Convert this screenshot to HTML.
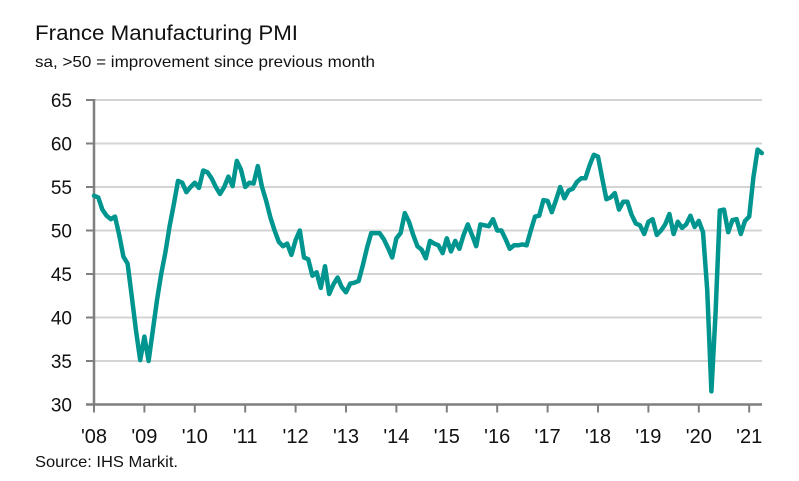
<!DOCTYPE html>
<html><head><meta charset="utf-8"><style>
html,body{margin:0;padding:0;background:#fff;}
svg{display:block;font-family:"Liberation Sans",sans-serif;}
</style></head><body>
<svg id="chart" width="799" height="481" viewBox="0 0 799 481" xmlns="http://www.w3.org/2000/svg">
<text x="35" y="40" font-size="21" fill="#111" textLength="263" lengthAdjust="spacingAndGlyphs">France Manufacturing PMI</text>
<text x="35" y="67" font-size="16" fill="#111" textLength="340" lengthAdjust="spacingAndGlyphs">sa, &gt;50 = improvement since previous month</text>
<text x="35" y="467" font-size="16" fill="#111" textLength="143" lengthAdjust="spacingAndGlyphs">Source: IHS Markit.</text>
<g id="grid"></g><g id="axes"></g><g id="series"></g>
</svg>
<script>
const yTicks = [30,35,40,45,50,55,60,65];
const yearLabels = ["'08","'09","'10","'11","'12","'13","'14","'15","'16","'17","'18","'19","'20","'21"];
const startYear = 2008;
const pmi2008_2010 = [54.0,53.8,52.4,51.7,51.3,51.6,49.5,47.0,46.2,42.4,38.5,35.1,
 37.8,35.0,38.5,42.0,45.0,47.5,50.5,53.0,55.7,55.5,54.4,55.0,
 55.5,54.9,56.9,56.7,56.0,55.0,54.2,55.0,56.2,55.1,58.0,57.0];
const pmi2011_2013 = [55.0,55.5,55.4,57.4,55.0,53.4,51.5,50.0,48.7,48.2,48.5,47.2,
 48.9,50.0,46.9,46.7,44.8,45.2,43.4,45.9,42.7,43.8,44.6,43.5,
 42.9,43.9,44.0,44.2,46.0,48.0,49.7,49.7,49.7,49.0,48.0,46.9];
const pmi2014_2016 = [49.1,49.7,52.0,51.0,49.5,48.2,47.8,46.8,48.8,48.5,48.3,47.4,
 49.1,47.6,48.8,47.9,49.5,50.7,49.5,48.2,50.7,50.6,50.5,51.3,
 50.0,50.0,49.0,47.9,48.3,48.3,48.4,48.3,50.0,51.6,51.7,53.5];
const pmi2017_2019 = [53.4,52.1,53.5,55.0,53.7,54.6,54.8,55.6,56.0,56.0,57.5,58.7,
 58.5,56.0,53.6,53.8,54.3,52.4,53.3,53.3,51.8,50.8,50.6,49.6,
 51.0,51.3,49.5,50.0,50.7,51.9,49.6,51.0,50.3,50.7,51.7,50.4];
const pmi2020_2021 = [51.1,49.8,43.2,31.5,40.6,52.3,52.4,49.8,51.2,51.3,49.6,51.1,
 51.6,56.1,59.3,58.9];
const pmiValues = [].concat(pmi2008_2010,pmi2011_2013,pmi2014_2016,pmi2017_2019,pmi2020_2021);

const NS="http://www.w3.org/2000/svg";
const X0=94, PX_PER_YEAR=50.4, Y30=404.5, PX_PER_UNIT=8.7, XR=762;
function xMonth(i){return X0+i*PX_PER_YEAR/12;}
function xYear(k){return X0+k*PX_PER_YEAR;}
function yScale(v){return Y30-(v-30)*PX_PER_UNIT;}
function mk(tag,attrs,parent){const e=document.createElementNS(NS,tag);for(const k in attrs)e.setAttribute(k,attrs[k]);parent.appendChild(e);return e;}
const grid=document.getElementById('grid'),axes=document.getElementById('axes'),series=document.getElementById('series');
yTicks.forEach(v=>{
  const y=yScale(v);
  if(v!==30){const g=mk('line',{x1:X0,x2:XR,y1:y,y2:y,stroke:'#d4d4d4','stroke-width':2},grid);
  
  }
  const t=mk('line',{x1:86,x2:X0,y1:y,y2:y,stroke:'#7f7f7f','stroke-width':2},axes);
  
  
  const l=mk('text',{x:72,y:y+7,'font-size':19,'text-anchor':'end',fill:'#111'},axes);
  l.textContent=v;
  
  
});
const ya=mk('line',{x1:X0,x2:X0,y1:yScale(65)-1,y2:Y30+1,stroke:'#7f7f7f','stroke-width':2.5},axes);


const xa=mk('line',{x1:86,x2:XR,y1:Y30,y2:Y30,stroke:'#7f7f7f','stroke-width':2.5},axes);


yearLabels.forEach((s,k)=>{
  const x=xYear(k);
  const t=mk('line',{x1:x,x2:x,y1:Y30,y2:Y30+8,stroke:'#7f7f7f','stroke-width':2},axes);
  
  
  const l=mk('text',{x:x,y:443,'font-size':20,'text-anchor':'middle',fill:'#111'},axes);
  l.textContent=s;
  
  
});
const d=pmiValues.map((v,i)=>(i?'L':'M')+xMonth(i).toFixed(1)+','+yScale(v).toFixed(1)).join(' ');
const p=mk('path',{d:d,fill:'none',stroke:'#00968f','stroke-width':4.5,'stroke-linejoin':'round','stroke-linecap':'round'},series);


</script>
</body></html>
